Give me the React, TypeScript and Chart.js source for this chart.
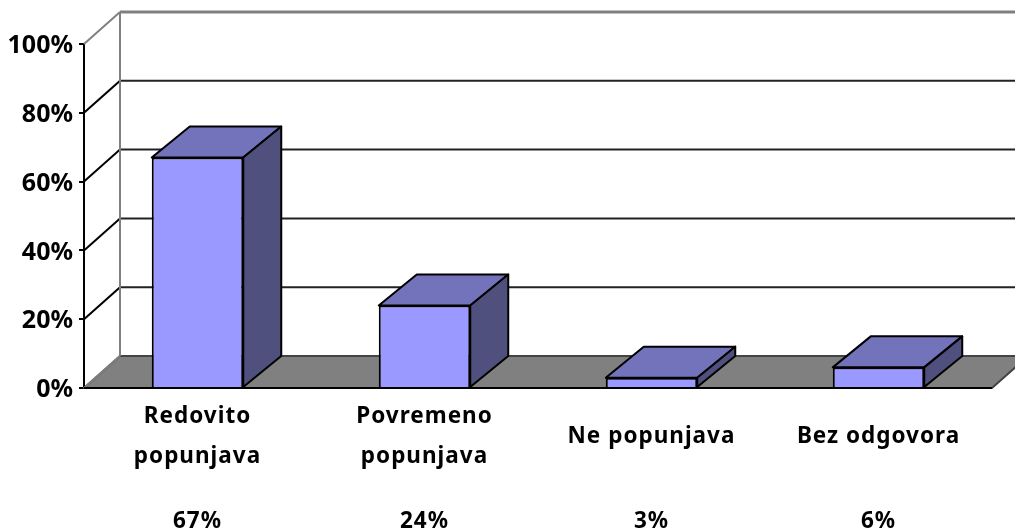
import React, { useEffect, useRef } from "react";
import { Chart, registerables } from "chart.js";

Chart.register(...registerables);

const categoryLabels: string[][] = [
  ["Redovito", "", "popunjava"],
  ["Povremeno", "", "popunjava"],
  ["", "Ne popunjava"],
  ["", "Bez odgovora"],
];
const percentLabels = ["67%", "24%", "3%", "6%"];
const values = [67, 24, 3, 6];
const yTicks = [0, 20, 40, 60, 80, 100];

const FONT = "'Noto Sans'";
const WALL_DX = 36;
const WALL_DY = -32;
const BAR_DX = 38;
const BAR_DY = -31;

const poly = (ctx: CanvasRenderingContext2D, pts: number[][], fill: string | null, stroke: string, lw: number) => {
  ctx.beginPath();
  pts.forEach((p, i) => (i ? ctx.lineTo(p[0], p[1]) : ctx.moveTo(p[0], p[1])));
  ctx.closePath();
  if (fill) {
    ctx.fillStyle = fill;
    ctx.fill();
  }
  ctx.lineWidth = lw;
  ctx.strokeStyle = stroke;
  ctx.lineJoin = "round";
  ctx.stroke();
};
const seg = (ctx: CanvasRenderingContext2D, a: number[], b: number[], stroke: string, lw: number) => {
  ctx.beginPath();
  ctx.moveTo(a[0], a[1]);
  ctx.lineTo(b[0], b[1]);
  ctx.lineWidth = lw;
  ctx.strokeStyle = stroke;
  ctx.stroke();
};

const depthPlugin = {
  id: "depth",
  beforeDraw(chart: any) {
    (chart.ctx as any).letterSpacing = "1px";
  },
  beforeDatasetsDraw(chart: any) {
    const { ctx, scales } = chart;
    const y = scales.y;
    const left = chart.chartArea.left;
    const right = chart.chartArea.right;
    const base = y.getPixelForValue(0);
    const top = y.getPixelForValue(100);
    ctx.save();
    poly(
      ctx,
      [
        [left, base],
        [right, base],
        [right + WALL_DX, base + WALL_DY],
        [left + WALL_DX, base + WALL_DY],
      ],
      "#808080",
      "#444444",
      2,
    );
    yTicks.forEach((t) => {
      const py = y.getPixelForValue(t);
      if (t > 0 && t < 100) {
        seg(ctx, [left, py], [left + WALL_DX, py + WALL_DY], "#000000", 2);
        seg(ctx, [left + WALL_DX, py + WALL_DY], [right + WALL_DX, py + WALL_DY], "#222222", 2);
      }
    });
    seg(ctx, [left + WALL_DX, top + WALL_DY], [left + WALL_DX, base + WALL_DY], "#808080", 2);
    seg(ctx, [left + WALL_DX, top + WALL_DY], [right + WALL_DX, top + WALL_DY], "#808080", 3);
    seg(ctx, [left, top], [left + WALL_DX, top + WALL_DY], "#808080", 2);
    seg(ctx, [left, base], [left + WALL_DX, base + WALL_DY], "#808080", 2);
    ctx.restore();
  },
  afterDatasetsDraw(chart: any) {
    const { ctx } = chart;
    ctx.save();
    chart.getDatasetMeta(0).data.forEach((bar: any) => {
      const l = bar.x - bar.width / 2;
      const r = bar.x + bar.width / 2;
      const t = bar.y;
      const b = bar.base;
      poly(ctx, [[l, t], [r, t], [r + BAR_DX, t + BAR_DY], [l + BAR_DX, t + BAR_DY]], "#7373BC", "#000000", 2);
      poly(ctx, [[r, t], [r + BAR_DX, t + BAR_DY], [r + BAR_DX, b + BAR_DY], [r, b]], "#50507F", "#000000", 2);
    });
    const x = chart.chartArea;
    seg(ctx, [x.left, x.bottom], [x.right, x.bottom], "#000000", 2);
    ctx.restore();
    (ctx as any).letterSpacing = "0px";
  },
};

export default function App() {
  const ref = useRef<HTMLCanvasElement>(null);
  useEffect(() => {
    document.body.style.margin = "0";
    const tickFont = { family: FONT, size: 25, weight: "bold" as const };
    const catFont = { family: FONT, size: 22.5, weight: "bold" as const, lineHeight: "20px" };
    const chart = new Chart(ref.current!, {
      type: "bar",
      data: {
        labels: categoryLabels as any,
        datasets: [
          {
            data: values,
            backgroundColor: "#9999FF",
            borderColor: "#000000",
            borderWidth: 2,
            barPercentage: 0.403,
            categoryPercentage: 1,
          },
        ],
      },
      options: {
        animation: false,
        responsive: false,
        layout: { padding: { top: 44, right: 23, left: 0, bottom: 0 } },
        plugins: { legend: { display: false }, tooltip: { enabled: false } },
        scales: {
          x: {
            position: "bottom",
            grid: { display: false },
            border: { display: false },
            ticks: { color: "#000", font: catFont, padding: 11, maxRotation: 0, autoSkip: false },
            afterFit: (s: any) => {
              s.height = 112;
            },
          },
          x2: {
            type: "category",
            position: "bottom",
            labels: percentLabels,
            grid: { display: false },
            border: { display: false },
            ticks: { color: "#000", font: { ...catFont, lineHeight: "22px" }, padding: 3, maxRotation: 0, autoSkip: false },
            afterFit: (s: any) => {
              s.height = 31;
            },
          },
          y: {
            min: 0,
            max: 100,
            position: "left",
            grid: { drawOnChartArea: false, drawTicks: true, tickLength: 5, color: "#000", lineWidth: 2 },
            border: { display: true, color: "#000", width: 2 },
            ticks: { z: 1, stepSize: 20, labelOffset: 2, color: "#000", font: tickFont, padding: 6, callback: (v: any) => `${v}%` },
            afterFit: (s: any) => {
              s.width = 84;
            },
          },
        } as any,
      },
      plugins: [depthPlugin],
    });
    return () => chart.destroy();
  }, []);
  return <canvas ref={ref} width={1015} height={531} style={{ display: "block" }} />;
}
